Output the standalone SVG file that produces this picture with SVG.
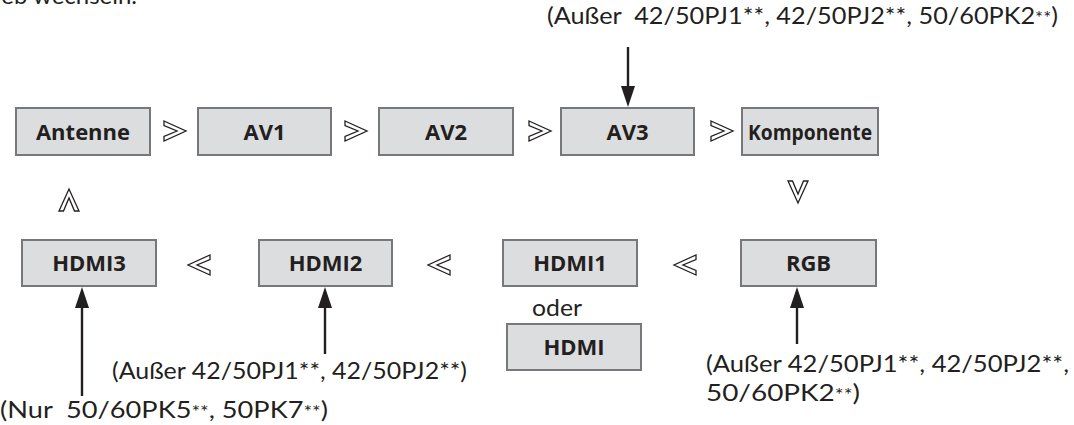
<svg xmlns="http://www.w3.org/2000/svg" width="1074" height="425" viewBox="0 0 1074 425">
<defs>
<style>
.box{fill:#dcdddf;stroke:#77787b;stroke-width:2}
.bl{font-family:"Open Sans","Noto Sans",sans-serif;font-weight:bold;font-size:22px;fill:#231f20;text-anchor:middle}
.tx{font-family:Lato,"Open Sans",sans-serif;font-size:24px;fill:#231f20}
.sa{font-size:18px}
.sym{fill:#fff;stroke:#231f20;stroke-width:1.3;stroke-linejoin:miter}
.ln{stroke:#231f20;stroke-width:2.4;fill:none}
.hd{fill:#231f20}
</style>
<polygon id="gt" points="0,0 22,10 0,20 0,15.5 13,10 0,4.5" />
</defs>
<rect width="1074" height="425" fill="#fff"/>
<text class="tx" x="137" y="4" text-anchor="end">Betrieb wechseln.</text>

<g id="antenne"><rect class="box" x="16" y="108" width="134" height="47"/><text class="bl" x="83" y="139.5">Antenne</text></g>
<g id="av1"><rect class="box" x="198" y="108" width="133" height="47"/><text class="bl" x="264.5" y="139.5">AV1</text></g>
<g id="av2"><rect class="box" x="379" y="108" width="134" height="47"/><text class="bl" x="446" y="139.5">AV2</text></g>
<g id="av3"><rect class="box" x="561" y="108" width="133" height="47"/><text class="bl" x="627.5" y="139.5">AV3</text></g>
<g id="komponente"><rect class="box" x="742" y="108" width="136" height="47"/><text class="bl" x="810" y="139.5" font-size="20" textLength="124" lengthAdjust="spacingAndGlyphs">Komponente</text></g>

<g id="hdmi3"><rect class="box" x="22" y="240" width="134" height="46"/><text class="bl" x="89" y="270.5">HDMI3</text></g>
<g id="hdmi2"><rect class="box" x="259" y="240" width="133" height="46"/><text class="bl" x="325.5" y="270.5">HDMI2</text></g>
<g id="hdmi1"><rect class="box" x="503" y="240" width="134" height="46"/><text class="bl" x="570" y="270.5">HDMI1</text></g>
<g id="hdmi"><rect class="box" x="507" y="324" width="134" height="46"/><text class="bl" x="574" y="354.5">HDMI</text></g>
<g id="rgb"><rect class="box" x="741" y="240" width="135" height="46"/><text class="bl" x="808.5" y="270.5">RGB</text></g>

<text class="tx" x="532" y="316" textLength="50" lengthAdjust="spacingAndGlyphs">oder</text>

<g id="connectors">
<use href="#gt" class="sym" transform="translate(164,121)"/>
<use href="#gt" class="sym" transform="translate(345,121)"/>
<use href="#gt" class="sym" transform="translate(529,121)"/>
<use href="#gt" class="sym" transform="translate(711,121)"/>
<use href="#gt" class="sym" transform="translate(808,181) rotate(90)"/>
<use href="#gt" class="sym" transform="translate(696,275) rotate(180)"/>
<use href="#gt" class="sym" transform="translate(450,275) rotate(180)"/>
<use href="#gt" class="sym" transform="translate(210,275) rotate(180)"/>
<use href="#gt" class="sym" transform="translate(59,211) rotate(-90)"/>

<line class="ln" x1="628" y1="47" x2="628" y2="90"/>
<polygon class="hd" points="621,86 635,86 628,107"/>
<line class="ln" x1="82" y1="396" x2="82" y2="300"/>
<polygon class="hd" points="75,308 89,308 82,287"/>
<line class="ln" x1="325" y1="354" x2="325" y2="300"/>
<polygon class="hd" points="318,308 332,308 325,287"/>
<line class="ln" x1="797" y1="344" x2="797" y2="300"/>
<polygon class="hd" points="790,308 804,308 797,287"/>
</g>

<text class="tx" x="547" y="24" textLength="511" lengthAdjust="spacingAndGlyphs" xml:space="preserve">(Außer  42/50PJ1**, 42/50PJ2**, 50/60PK2<tspan class="sa">**</tspan>)</text>
<text class="tx" x="112" y="379" textLength="355" lengthAdjust="spacingAndGlyphs">(Außer 42/50PJ1**, 42/50PJ2**)</text>
<text class="tx" x="0" y="418" textLength="328" lengthAdjust="spacingAndGlyphs" xml:space="preserve">(Nur  50/60PK5<tspan class="sa">**</tspan>, 50PK7<tspan class="sa">**</tspan>)</text>
<text class="tx" x="706" y="372" textLength="363" lengthAdjust="spacingAndGlyphs">(Außer 42/50PJ1**, 42/50PJ2**,</text>
<text class="tx" x="706" y="401" textLength="154" lengthAdjust="spacingAndGlyphs">50/60PK2<tspan class="sa">**</tspan>)</text>
</svg>
